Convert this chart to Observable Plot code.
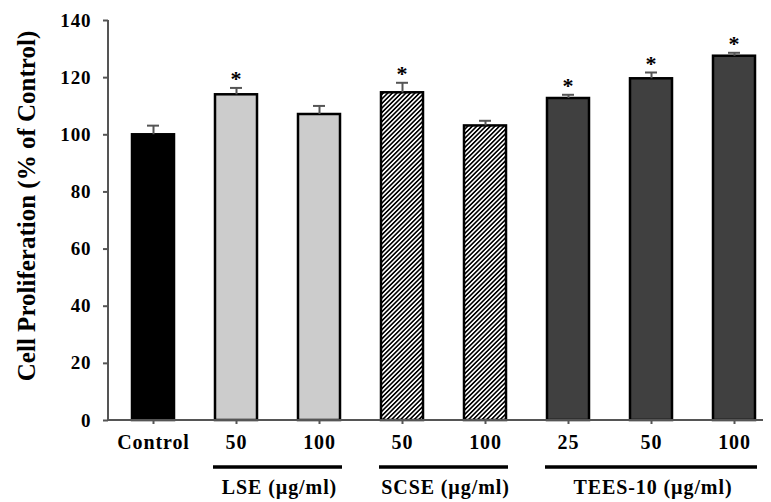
<!DOCTYPE html>
<html>
<head>
<meta charset="utf-8">
<script src="https://cdn.jsdelivr.net/npm/d3@7"></script>
<script src="https://cdn.jsdelivr.net/npm/@observablehq/plot@0.6"></script>
<style>
  html, body { margin: 0; padding: 0; background: white; }
  svg { font-family: "Liberation Serif", "Times New Roman", serif; }
  #chart svg text { letter-spacing: 0.9px; }
</style>
</head>
<body>
<div id="chart"></div>
<script>
// ---- data ----
const categories = ["Control", "LSE 50", "LSE 100", "SCSE 50", "SCSE 100", "TEES 25", "TEES 50", "TEES 100"];
const tickLabels = ["Control", "50", "100", "50", "100", "25", "50", "100"];
const groups     = ["Control", "LSE", "LSE", "SCSE", "SCSE", "TEES", "TEES", "TEES"];
const means      = [100, 114.0, 107.1, 114.7, 103.1, 112.7, 119.6, 127.5];
const errors     = [3.2, 2.4, 3.0, 3.5, 1.8, 1.3, 2.2, 1.2];
const significant = [false, true, false, true, false, true, true, true];
const groupNames = ["LSE", "SCSE", "TEES"];
const groupLabels = ["LSE (µg/ml)", "SCSE (µg/ml)", "TEES-10 (µg/ml)"];
const yTicks = [0, 20, 40, 60, 80, 100, 120, 140];
const yTitle = "Cell Proliferation (% of Control)";

const fills = {Control: "black", LSE: "#cccccc", SCSE: "url(#hatch)", TEES: "#404040"};

const data = categories.map((c, i) => ({
  id: c, label: tickLabels[i], group: groups[i], mean: means[i], err: errors[i], sig: significant[i]
}));

const FONT = '"Liberation Serif", "Times New Roman", serif';

function decorations(index, scales, values, dimensions) {
  const x = scales.x, y = scales.y;
  const bw = typeof x.bandwidth === "function" ? x.bandwidth() : x.bandwidth;
  const g = d3.create("svg:g");
  // axis lines
  g.append("line").attr("x1", dimensions.marginLeft).attr("x2", dimensions.marginLeft)
    .attr("y1", y(0)).attr("y2", y(140)).attr("stroke", "#555").attr("stroke-width", 2);
  g.append("line").attr("x1", dimensions.marginLeft - 1).attr("x2", dimensions.width - dimensions.marginRight)
    .attr("y1", y(0)).attr("y2", y(0)).attr("stroke", "#555").attr("stroke-width", 2);
  // group brackets and labels
  groupNames.forEach((gn, k) => {
    const members = data.filter(d => d.group === gn);
    const x1 = x(members[0].id) - 2;
    const x2 = x(members[members.length - 1].id) + bw + 2;
    const yl = y(0) + 47;
    g.append("line").attr("x1", x1).attr("x2", x2).attr("y1", yl).attr("y2", yl)
      .attr("stroke", "black").attr("stroke-width", 3.5);
    g.append("text").attr("x", (x1 + x2) / 2 + 2).attr("y", yl + 27)
      .attr("text-anchor", "middle").attr("font-family", FONT).attr("font-weight", "bold")
      .attr("font-size", 20).attr("fill", "black").text(groupLabels[k]);
  });
  // y title
  g.append("text")
    .attr("transform", `translate(29,${(y(0) + y(140)) / 2 - 14}) rotate(-90)`)
    .attr("text-anchor", "middle").attr("dominant-baseline", "middle")
    .attr("font-family", FONT).attr("font-weight", "bold").attr("font-size", 25)
    .style("letter-spacing", "0px")
    .attr("fill", "black").text(yTitle);
  return g.node();
}

const chart = Plot.plot({
  width: 771,
  height: 502,
  marginLeft: 108,
  marginRight: 8,
  marginTop: 20,
  marginBottom: 82,
  style: {fontFamily: FONT, background: "white"},
  x: {type: "band", domain: categories, range: [108, 778], paddingInner: 0.5, paddingOuter: 0.25, axis: null},
  y: {domain: [0, 140], axis: null},
  color: {type: "identity"},
  marks: [
    Plot.barY(data, {x: "id", y: "mean", fill: d => fills[d.group], stroke: "black", strokeWidth: 2.5}),
    Plot.ruleX(data, {x: "id", y1: "mean", y2: d => d.mean + d.err, stroke: "#555", strokeWidth: 2}),
    Plot.tickY(data, {x: "id", y: d => d.mean + d.err, stroke: "#555", strokeWidth: 2, insetLeft: 15, insetRight: 15}),
    Plot.text(data.filter(d => d.sig), {x: "id", y: d => d.mean + d.err, text: () => "*", dy: -2, lineAnchor: "bottom",
      fontSize: 22, fontWeight: "bold", fill: "black"}),
    Plot.axisY({ticks: yTicks, tickSize: 5, tickPadding: 12, stroke: "#555", strokeWidth: 2, fill: "black",
      fontSize: 19, fontWeight: "bold", label: null}),
    Plot.axisX({tickSize: 4, tickPadding: 10, stroke: "#555", strokeWidth: 2, fill: "black",
      fontSize: 20, fontWeight: "bold", label: null,
      tickFormat: id => tickLabels[categories.indexOf(id)]}),
    decorations
  ]
});

// hatch pattern definition
const svg = d3.select(chart);
const defs = svg.insert("defs", ":first-child");
const pat = defs.append("pattern").attr("id", "hatch").attr("patternUnits", "userSpaceOnUse")
  .attr("width", 3.2).attr("height", 3.2).attr("patternTransform", "rotate(45)");
pat.append("rect").attr("width", 3.2).attr("height", 3.2).attr("fill", "white");
pat.append("rect").attr("width", 1.6).attr("height", 3.2).attr("fill", "black");

document.getElementById("chart").appendChild(chart);
</script>
</body>
</html>
